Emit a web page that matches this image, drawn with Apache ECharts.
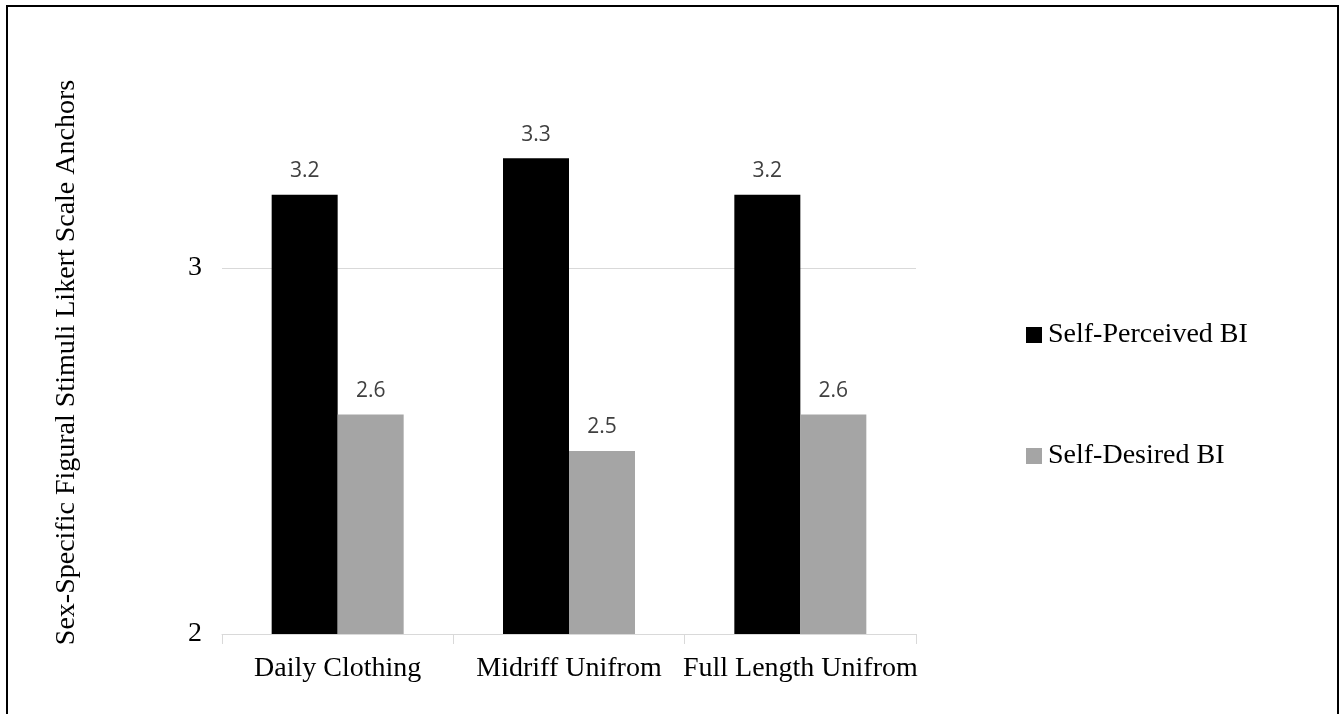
<!DOCTYPE html>
<html>
<head>
<meta charset="utf-8">
<script src="https://cdn.jsdelivr.net/npm/echarts@6/dist/echarts.min.js"></script>
<style>
html,body{margin:0;padding:0;background:#fff;}
#chart{width:1340px;height:714px;}
</style>
</head>
<body>
<div id="chart"></div>
<script>
const categories = ['Daily Clothing', 'Midriff Unifrom', 'Full Length Unifrom'];
const selfPerceived = [3.2, 3.3, 3.2];
const selfDesired = [2.6, 2.5, 2.6];
const seriesNames = ['Self-Perceived BI', 'Self-Desired BI'];
const yTicks = [2, 3];
const yTitle = 'Sex-Specific Figural Stimuli Likert Scale Anchors';

const serif = 'Liberation Serif';
const chart = echarts.init(document.getElementById('chart'), null, {renderer: 'canvas'});

const labelStyle = {
  show: true,
  position: 'top',
  distance: 13,
  fontFamily: 'Open Sans',
  fontSize: 21,
  color: '#404040',
  formatter: p => p.value.toFixed(1)
};

chart.setOption({
  animation: false,
  backgroundColor: '#ffffff',
  graphic: [{
    type: 'rect',
    shape: {x: 7, y: 6, width: 1331, height: 740},
    style: {fill: 'none', stroke: '#000000', lineWidth: 2},
    silent: true
  }],
  grid: {left: 222, right: 424, top: 85, bottom: 80},
  legend: {
    orient: 'vertical',
    left: 1026,
    top: 321,
    padding: 0,
    itemWidth: 16,
    itemHeight: 16,
    itemGap: 93,
    icon: 'rect',
    textStyle: {fontFamily: serif, fontSize: 28, color: '#000000', padding: [0, 0, 0, 1]},
    data: seriesNames
  },
  xAxis: {
    type: 'category',
    data: categories,
    axisLine: {show: true, lineStyle: {color: '#d9d9d9', width: 1}},
    axisTick: {show: true, length: 10, interval: 0, lineStyle: {color: '#d9d9d9'}},
    axisLabel: {interval: 0, margin: 21, fontFamily: serif, fontSize: 28, color: '#000000'},
    splitLine: {show: false}
  },
  yAxis: {
    type: 'value',
    min: 2,
    max: 3.5,
    interval: 1,
    name: yTitle,
    nameLocation: 'middle',
    nameGap: 141,
    nameRotate: 90,
    nameTextStyle: {fontFamily: serif, fontSize: 28, color: '#000000', padding: [0, 6, 0, 0]},
    axisLine: {show: false},
    axisTick: {show: false},
    axisLabel: {
      margin: 20,
      fontFamily: serif,
      fontSize: 28,
      color: '#000000',
      formatter: v => (yTicks.indexOf(v) >= 0 ? String(v) : '')
    },
    splitLine: {show: true, showMinLine: false, showMaxLine: false, lineStyle: {color: '#d9d9d9', width: 1}}
  },
  series: [
    {
      name: seriesNames[0],
      type: 'bar',
      data: selfPerceived,
      barWidth: 66,
      barGap: '0%',
      itemStyle: {color: '#000000'},
      label: labelStyle
    },
    {
      name: seriesNames[1],
      type: 'bar',
      data: selfDesired,
      barWidth: 66,
      barGap: '0%',
      itemStyle: {color: '#a5a5a5'},
      label: labelStyle
    }
  ]
});
</script>
</body>
</html>
